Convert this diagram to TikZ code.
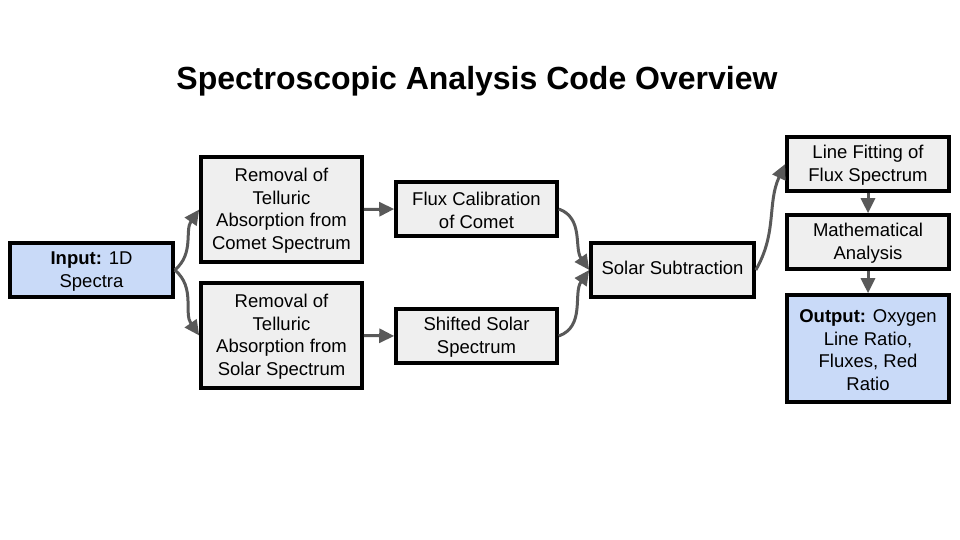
\documentclass[tikz,border=0pt]{standalone}
\usepackage{fontspec}
\setmainfont{Liberation Sans}
\usetikzlibrary{arrows.meta}
\definecolor{boxgray}{HTML}{EFEFEF}
\definecolor{boxblue}{HTML}{C9DAF8}
\definecolor{arrgray}{HTML}{595959}
\tikzset{
  box/.style={draw=black, line width=3.6pt, fill=boxgray, inner sep=0pt, align=center, font=\fontsize{18.5}{22.5}\selectfont},
  bluebox/.style={box, fill=boxblue},
  conn/.style={draw=arrgray, line width=3pt, -{Triangle[length=15pt,width=14pt]}},
}
\begin{document}
\begin{tikzpicture}[x=1pt,y=-1pt]
\useasboundingbox (0,0) rectangle (960,540);
\node[font=\fontsize{32}{36}\selectfont\bfseries] (title) at (477,81) {Spectroscopic Analysis Code Overview};
\node[bluebox, minimum width=163pt, minimum height=54pt] (in) at (91.5,270) {\strut\textbf{Input:} 1D\\Spectra};
\node[box, minimum width=161pt, minimum height=105pt] (rc) at (281.5,209.5) {\strut Removal of\\Telluric\\Absorption from\\Comet Spectrum};
\node[box, minimum width=161pt, minimum height=105pt] (rs) at (281.5,335.5) {\strut Removal of\\Telluric\\Absorption from\\Solar Spectrum};
\node[box, minimum width=161pt, minimum height=54pt] (fc) at (476.5,209) {\strut Flux Calibration\\of Comet};
\node[box, minimum width=161pt, minimum height=54pt] (ss) at (476.5,336) {\strut Shifted Solar\\Spectrum};
\node[box, minimum width=163pt, minimum height=54pt] (sub) at (672.5,270) {\strut Solar Subtraction};
\node[box, minimum width=162pt, minimum height=54pt] (lf) at (868,164) {\strut Line Fitting of\\Flux Spectrum};
\node[box, minimum width=162pt, minimum height=54pt] (ma) at (868,242) {\strut Mathematical\\Analysis};
\node[bluebox, minimum width=162pt, minimum height=107pt] (out) at (868,348.5) {\strut\textbf{Output:} Oxygen\\Line Ratio,\\Fluxes, Red\\Ratio};
\draw[conn] (in.east) to[out=40,in=235] (rc.west);
\draw[conn] (in.east) to[out=-40,in=125] (rs.west);
\draw[conn] (rc.east) -- (fc.west);
\draw[conn] (rs.east) -- (ss.west);
\draw[conn] (fc.east) to[out=-20,in=125] (sub.west);
\draw[conn] (ss.east) to[out=20,in=235] (sub.west);
\draw[conn] (sub.east) to[out=60,in=245] (lf.west);
\draw[conn] (lf.south) -- (ma.north);
\draw[conn] (ma.south) -- (out.north);
\end{tikzpicture}
\end{document}
